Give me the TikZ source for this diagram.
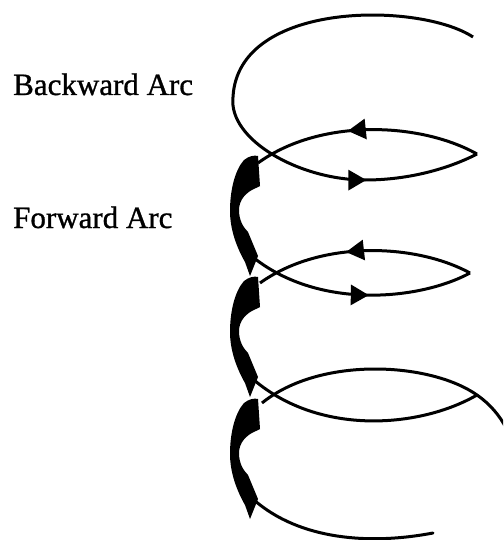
\documentclass[tikz,border=0pt]{standalone}
\usepackage{fontspec}
\setmainfont{Liberation Serif}[FakeBold=1]
\usetikzlibrary{arrows.meta, decorations.markings}

\begin{document}
\begin{tikzpicture}[x=1pt, y=-1pt,
    cung/.style={line width=3pt},
    muiten/.style={postaction={decorate}, decoration={markings,
        mark=at position #1 with {\arrow{Triangle[length=18pt, width=20pt]}}}},
    nhan/.style={font=\fontsize{31}{36}\selectfont, inner sep=0pt, anchor=base west}]
    \useasboundingbox (0,0) rectangle (503,540);
    \clip (0,0) rectangle (503,540);
    % Nhãn
    \node[nhan] (backward) at (13,95) {Backward Arc};
    \node[nhan] (forward) at (13,228) {Forward Arc};

    % Cung lùi phía trên
    \draw[cung] (473,37) .. controls (420,2) and (238,0) .. (233,97);
    \draw[cung, muiten=0.6] (233,97) .. controls (228,140) and (300,180) .. (365,180)
        .. controls (410,180) and (450,168) .. (477,154);
    \draw[cung, muiten=0.58] (477,154) .. controls (420,122) and (320,118) .. (258,163);

    % Cung lùi thứ hai
    \draw[cung, muiten=0.54] (254,258) .. controls (320,310) and (420,300) .. (470,273);
    \draw[cung, muiten=0.58] (470,273) .. controls (415,243) and (320,240) .. (260,283);

    % Vòng dưới
    \draw[cung] (254,380) .. controls (320,436) and (420,428) .. (477,395);
    \draw[cung] (262,403) .. controls (320,356) and (430,362) .. (477,395)
        .. controls (490,404) and (500,416) .. (506,428);
    \draw[cung, line cap=round] (254,500) .. controls (300,540) and (370,545) .. (433,533);

    % Cung tiến
    \foreach \d in {0,121,243}
        \fill[shift={(0,\d)}] (258,156) -- (260,186) -- (256,188)
            .. controls (246,192) and (239,200) .. (239,210)
            .. controls (239,220) and (243,227) .. (248,232) -- (258,256) -- (250,276)
            -- (245,262) .. controls (237,248) and (230,230) .. (230,211)
            .. controls (230,190) and (235,170) .. (244,160)
            .. controls (249,156) and (254,155) .. (258,156) -- cycle;
\end{tikzpicture}
\end{document}
